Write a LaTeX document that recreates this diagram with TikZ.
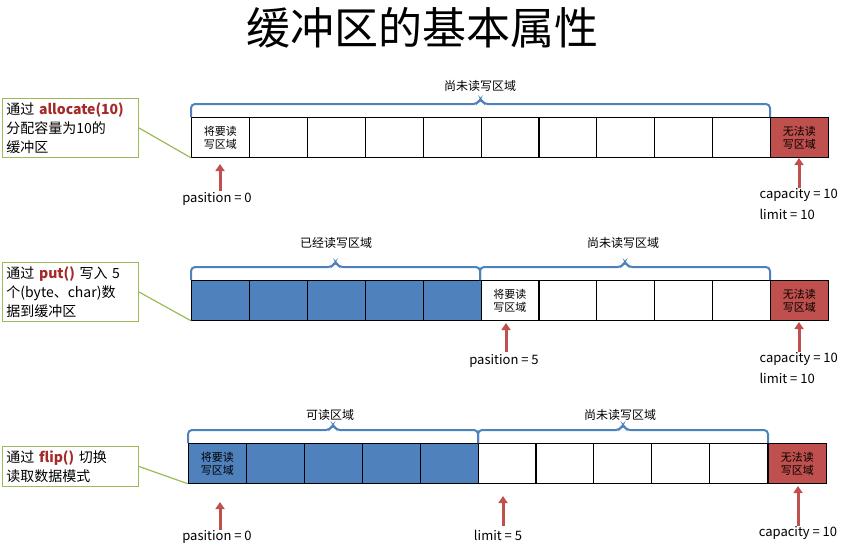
\documentclass[tikz,border=0pt]{standalone}
\usepackage{fontspec}
\setmainfont{Noto Sans CJK SC}
\usetikzlibrary{arrows.meta}
\definecolor{cblue}{HTML}{4F81BD}
\definecolor{cred}{HTML}{C0504D}
\definecolor{cgreen}{HTML}{9BBB59}
\definecolor{tred}{HTML}{A52A2A}
\tikzset{
  cell/.style={draw=black,line width=0.8pt,minimum width=58pt,minimum height=40pt,inner sep=0pt,anchor=north west,font=\fontsize{11}{13}\selectfont,align=center},
  bluecell/.style={cell,fill=cblue},
  redcell/.style={cell,fill=cred},
  callout/.style={draw=cgreen,line width=0.8pt,fill=white,anchor=north west,minimum width=136pt,align=left,text width=128pt,inner sep=4pt,font=\fontsize{14}{19}\selectfont},
  lbl/.style={font=\fontsize{13}{15}\selectfont},
  brlbl/.style={font=\fontsize{12}{14}\selectfont},
  up/.style={-{Triangle[length=7pt,width=9pt]},draw=cred,line width=3pt},
  brc/.style={draw=cblue,line width=2pt,rounded corners=4pt},
  conn/.style={draw=cgreen,line width=1.2pt}
}
\newcommand{\brce}[4]{% x1,x2,ybottom,name
  \path[brc] (#1,#3) -- (#1,#3-13) -- ({(#1+#2)/2-3},#3-13) -- ({(#1+#2)/2},#3-19) -- ({(#1+#2)/2+3},#3-13) -- (#2,#3-13) -- (#2,#3);
  \coordinate (#4) at ({(#1+#2)/2},#3-19);}
\begin{document}
\begin{tikzpicture}[x=1pt,y=-1pt]
\useasboundingbox (0,0) rectangle (844,547);
\node[font=\fontsize{44}{48}\selectfont] (title) at (422,28) {缓冲区的基本属性};
% Row 1
\foreach \i in {0,...,9} {\node[cell] (a\i) at ({191+57.9*\i},117) {};}
\node[cell] at (a0.north west) {将要读\\写区域};
\node[redcell] (ar) at (770,117) {无法读\\写区域};
\brce{191}{770}{117}{b1}
\node[brlbl] (bl1) at (480,86) {尚未读写区域};
\node[callout] (c1) at (2,98) {通过 \textcolor{tred}{\bfseries allocate(10)}\\分配容量为10的\\缓冲区};
\draw[conn] (c1.east) -- (a0.south west);
\coordinate (p1) at (220,191);
\draw[up] (p1) -- (220,164);
\node[lbl] (pl1) at (217,199) {pasition = 0};
\coordinate (q1) at (799,188);
\draw[up] (q1) -- (799,158);
\node[lbl,anchor=west] (cap1) at (756,195) {capacity = 10};
\node[lbl,anchor=west] (lim1) at (756,214) {limit = 10};
% Row 2
\foreach \i in {0,...,4} {\node[bluecell] (d\i) at ({191+57.9*\i},280) {};}
\foreach \i in {5,...,9} {\node[cell] (d\i) at ({191+57.9*\i},280) {};}
\node[cell] at (d5.north west) {将要读\\写区域};
\node[redcell] (dr) at (770,280) {无法读\\写区域};
\brce{191}{480}{280}{b2}
\brce{480}{770}{280}{b3}
\node[brlbl] (bl2) at (336,243) {已经读写区域};
\node[brlbl] (bl3) at (623,243) {尚未读写区域};
\node[callout] (c2) at (2,262) {通过 \textcolor{tred}{\bfseries put()} 写入 5\\个(byte、char)数\\据到缓冲区};
\draw[conn] (c2.east) -- (d0.south west);
\coordinate (p2) at (506,352);
\draw[up] (p2) -- (506,323);
\node[lbl] (pl2) at (504,361) {pasition = 5};
\coordinate (q2) at (799,352);
\draw[up] (q2) -- (799,322);
\node[lbl,anchor=west] (cap2) at (756,359) {capacity = 10};
\node[lbl,anchor=west] (lim2) at (756,378) {limit = 10};
% Row 3
\foreach \i in {0,...,4} {\node[bluecell] (e\i) at ({188+57.9*\i},443) {};}
\foreach \i in {5,...,9} {\node[cell] (e\i) at ({188+57.9*\i},443) {};}
\node[bluecell] at (e0.north west) {将要读\\写区域};
\node[redcell] (er) at (768,443) {无法读\\写区域};
\brce{188}{478}{443}{b4}
\brce{478}{768}{443}{b5}
\node[brlbl] (bl4) at (330,415) {可读区域};
\node[brlbl] (bl5) at (620,415) {尚未读写区域};
\node[callout] (c3) at (2,446) {通过 \textcolor{tred}{\bfseries flip()} 切换\\读取数据模式};
\draw[conn] (c3.east) -- (e0.south west);
\coordinate (p3) at (220,530);
\draw[up] (p3) -- (220,502);
\node[lbl] (pl3) at (217,537) {pasition = 0};
\coordinate (p4) at (503,526);
\draw[up] (p4) -- (503,496);
\node[lbl] (pl4) at (498,535) {limit = 5};
\coordinate (q3) at (798,526);
\draw[up] (q3) -- (798,486);
\node[lbl] (cap3) at (798,533) {capacity = 10};
\end{tikzpicture}
\end{document}
